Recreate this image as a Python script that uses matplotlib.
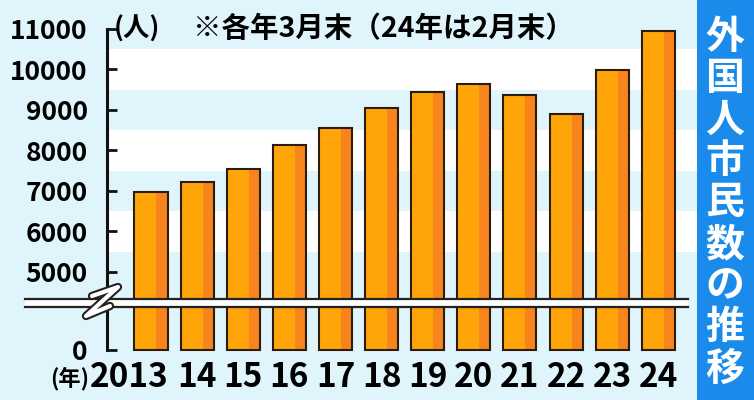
import matplotlib
matplotlib.use('Agg')
import matplotlib.pyplot as plt
from matplotlib.patches import Rectangle
from matplotlib.transforms import blended_transform_factory, ScaledTranslation
import numpy as np

plt.rcParams['font.family'] = ['Noto Sans CJK JP', 'DejaVu Sans']

# data (people, end of March; 2024 = end of Feb)
years = ['2013', '14', '15', '16', '17', '18', '19', '20', '21', '22', '23', '24']
residents = [6970, 7210, 7540, 8130, 8560, 9040, 9440, 9630, 9370, 8890, 9990, 10960]
y_ticks = [0, 5000, 6000, 7000, 8000, 9000, 10000, 11000]

title = '外国人市民数の推移'
note = '※各年3月末（24年は2月末）'

OFFSET = 3074  # values above the axis break are shifted down by this much
BG = '#DFF5FB'
LIGHT = '#FFA50A'
DARK = '#F7841C'
EDGE = '#2b1d0e'

W, H = 754, 400
fig = plt.figure(figsize=(W / 100, H / 100), dpi=100, facecolor=BG)
ax = fig.add_axes([107 / W, 50 / H, 590 / W, 350 / H])
ax.set_facecolor(BG)

x = np.arange(len(years))
h = np.array(residents) - OFFSET
ax.set_xlim(-0.954, 11.84)
ax.set_ylim(0, 8642)

# alternating background bands (white around the even thousands)
for v in (6000, 8000, 10000):
    ax.axhspan(v - 500 - OFFSET, v + 500 - OFFSET, color='white', lw=0, zorder=0)

# two-tone bars
bw = 0.716
ax.bar(x, h, width=bw, color=LIGHT, lw=0, zorder=2)
ax.bar(x + bw / 2 - bw / 6, h, width=bw / 3, color=DARK, lw=0, zorder=2)
ax.bar(x, h, width=bw, fill=False, edgecolor=EDGE, lw=1.5, zorder=3, clip_on=False)

# axis break band
trans = blended_transform_factory(ax.transAxes, ax.transData)
b_lo, b_hi = 1062, 1259
ax.add_patch(Rectangle((-0.139, b_lo), 1.124, b_hi - b_lo, transform=trans,
                       color='white', lw=0, zorder=5, clip_on=False))
for yy in (b_lo, b_hi):
    ax.plot([-0.139, 0.985], [yy, yy], transform=trans, color='#222222',
            lw=1.6, zorder=6, clip_on=False)

# zigzag over the axis
zx = np.array([92, 118, 86, 110]) / W
zy = 1 - np.array([296, 287, 316, 306]) / H
ax.plot(zx, zy, transform=fig.transFigure, color='#222222', lw=6,
        solid_joinstyle='round', solid_capstyle='round', zorder=7, clip_on=False)
ax.plot(zx, zy, transform=fig.transFigure, color='white', lw=3,
        solid_joinstyle='round', solid_capstyle='round', zorder=8, clip_on=False)

# axes styling
for s in ('top', 'right', 'bottom'):
    ax.spines[s].set_visible(False)
ax.spines['left'].set_linewidth(2.2)
ax.spines['left'].set_color('#111111')
ax.spines['left'].set_bounds(0, 11000 - OFFSET)
ax.spines['left'].set_zorder(4)

ax.set_yticks([v - OFFSET if v else 0 for v in y_ticks])
ax.set_yticklabels([str(v) for v in y_ticks], fontsize=19, fontweight='bold')
ax.tick_params(axis='y', direction='in', length=7, width=2, pad=14, color='#111111')

ax.set_xticks(x)
ax.set_xticklabels(years, fontsize=24, fontweight='bold')
ax.tick_params(axis='x', length=0, pad=8)
# the first (four-digit) year sits flush with the right edge of its bar
first = ax.get_xticklabels()[0]
first.set_transform(first.get_transform() + ScaledTranslation(-0.22, 0, fig.dpi_scale_trans))

fig.text(114 / W, 1 - 29 / H, '(人)', fontsize=19, fontweight='bold', va='center', ha='left')
fig.text(193 / W, 1 - 29 / H, note, fontsize=20.5, fontweight='bold', va='center', ha='left')
fig.text(89 / W, 1 - 379 / H, '(年)', fontsize=16, fontweight='bold', va='center', ha='right')

# title box on the right
fig.add_artist(Rectangle((697 / W, 0), 1 - 697 / W, 1, transform=fig.transFigure,
                         color='#1B8BEB', lw=0))
for i, ch in enumerate(title):
    fig.text(725 / W, 1 - (37 + i * 41.5) / H, ch, fontsize=28, fontweight='bold',
             color='white', ha='center', va='center')

fig.savefig('out.png', dpi=100, facecolor=BG)
